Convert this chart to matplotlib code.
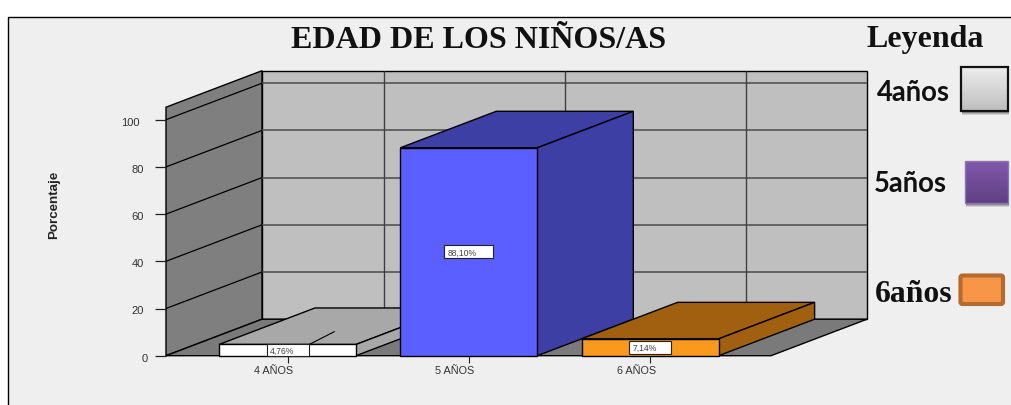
import numpy as np
import matplotlib
matplotlib.use("Agg")
import matplotlib.pyplot as plt
from matplotlib.patches import Polygon, Rectangle, FancyBboxPatch
from matplotlib.transforms import ScaledTranslation

# ---- data ----
categories = ["4 AÑOS", "5 AÑOS", "6 AÑOS"]
values = [4.76, 88.10, 7.14]
value_labels = ["4,76%", "88,10%", "7,14%"]
y_ticks = [0, 20, 40, 60, 80, 100]
legend_labels = ["4años", "5años", "6años"]
title = "EDAD DE LOS NIÑOS/AS"
legend_title = "Leyenda"
y_label = "Porcentaje"

# ---- style ----
W, H = 1011, 406
PX_X = 181.3   # pixels per category
PX_Y = 2.36    # pixels per percent
X0, X1 = 166, 771
Y_BOT, Y_TOP = 356.7, 108.2
DX = 96 / PX_X
DY = 36.5 / PX_Y
BAR_W = 137 / PX_X
SANS = "Liberation Sans"
SERIF = "Liberation Serif"

front_cols = ["#FFFFFF", "#5B5FFF", "#F99A1C"]
depth_cols = ["#A8A8A8", "#3D3FA4", "#A06010"]
box_w = [42, 49, 42]

fig = plt.figure(figsize=(W / 100, H / 100), dpi=100, facecolor="white")

# background panel and legend, in pixel coordinates
bg = fig.add_axes([0, 0, 1, 1], zorder=0)
bg.set_xlim(0, W)
bg.set_ylim(H, 0)
bg.axis("off")
bg.add_patch(Rectangle((8.0, 17.5), W + 20, H + 20, fc="#EFEFEF", ec="black", lw=1.0))


def swatch(x0, y0, x1, y1, top, bottom, edge, lw, shadow=True):
    if shadow:
        for g, a in zip((4, 3, 2), (0.12, 0.16, 0.22)):
            bg.add_patch(Rectangle((x0 + 1, y0 + g), x1 - x0, y1 - y0, fc="black",
                                   ec="none", alpha=a, zorder=2))
    c0 = np.array(matplotlib.colors.to_rgb(top))
    c1 = np.array(matplotlib.colors.to_rgb(bottom))
    t = np.linspace(0, 1, 64)[:, None, None]
    img = c0[None, None, :] * (1 - t) + c1[None, None, :] * t
    bg.imshow(img, extent=(x0, x1, y1, y0), aspect="auto", zorder=3,
              interpolation="bilinear")
    bg.add_patch(Rectangle((x0, y0), x1 - x0, y1 - y0, fc="none", ec=edge, lw=lw, zorder=4))


swatch(961, 67.5, 1007.5, 111.5, "#EDEDED", "#BEBEBE", "#111111", 1.6)
swatch(965, 161.5, 1008, 203.5, "#8359AC", "#5F4083", "#8F74B5", 1.0)
bg.add_patch(FancyBboxPatch((960.5, 276.5), 42.5, 28.5, boxstyle="round,pad=0,rounding_size=2",
                            fc="#F79646", ec="#B56A30", lw=3.0, zorder=3))
bg.set_xlim(0, W)
bg.set_ylim(H, 0)

bg.text(925.5, 40, legend_title, family=SERIF, weight="bold", fontsize=23,
        ha="center", va="center", color="#111111")
bg.text(913, 93, legend_labels[0], family="Lato", weight="bold", fontsize=19.8,
        ha="center", va="center", color="#111111")
bg.text(910.5, 184, legend_labels[1], family="Lato", weight="bold", fontsize=19.8,
        ha="center", va="center", color="#111111")
bg.text(913.5, 295, legend_labels[2], family=SERIF, weight="bold", fontsize=22.8,
        ha="center", va="center", color="#111111")

# chart axes: rectangle = front plane of the 3D box
ax = fig.add_axes([X0 / W, 1 - Y_BOT / H, (X1 - X0) / W, (Y_BOT - Y_TOP) / H], zorder=1)
ax.patch.set_alpha(0)
xmin, xmax = (X0 - 287.5) / PX_X, (X1 - 287.5) / PX_X
ymax = (Y_BOT - Y_TOP) / PX_Y
ax.set_xlim(xmin, xmax)
ax.set_ylim(0, ymax)
for s in ax.spines.values():
    s.set_visible(False)


def poly(pts, fc, ec="black", lw=1.0, z=1):
    ax.add_patch(Polygon(pts, closed=True, fc=fc, ec=ec, lw=lw, zorder=z,
                         clip_on=False, joinstyle="miter"))


def line(xs, ys, color="black", lw=1.0, z=2):
    ax.plot(xs, ys, color=color, lw=lw, zorder=z, clip_on=False, solid_capstyle="butt")


# walls and floor
poly([(xmin + DX, DY), (xmax + DX, DY), (xmax + DX, ymax + DY), (xmin + DX, ymax + DY)], "#BFBFBF")
poly([(xmin, 0), (xmin + DX, DY), (xmin + DX, ymax + DY), (xmin, ymax)], "#7F7F7F")
poly([(xmin, 0), (xmax, 0), (xmax + DX, DY), (xmin + DX, DY)], "#7A7A7A")

# gridlines
for v in y_ticks[1:]:
    line([xmin + DX, xmax + DX], [v + DY, v + DY], color="#4A4A4A", lw=1.1)
for v in y_ticks[1:]:
    line([xmin, xmin + DX], [v, v + DY], color="black", lw=0.9)
for c in range(len(categories)):
    line([c + DX, c + DX], [DY, ymax + DY], color="#404040", lw=1.0)

# 3D bars, painted left to right
zb = 5
for i, (val, f, d) in enumerate(zip(values, front_cols, depth_cols)):
    l, r = i - BAR_W / 2, i + BAR_W / 2
    poly([(l, val), (r, val), (r + DX, val + DY), (l + DX, val + DY)], d, z=zb + i)
    poly([(r, 0), (r + DX, DY), (r + DX, val + DY), (r, val)], d, z=zb + i)
    poly([(l, 0), (r, 0), (r, val), (l, val)], f, z=zb + i)

# leader stub on the first bar top
line([0.12, 0.26], [values[0], values[0] + 5.5], lw=0.8, z=zb + 0.5)

# value boxes
for i, (val, lab, bw) in enumerate(zip(values, value_labels, box_w)):
    w = bw / PX_X
    h = 12.5 / PX_Y
    ax.add_patch(Rectangle((i - w / 2, val / 2 - h / 2), w, h, fc="white", ec="#222222",
                           lw=0.8, zorder=20, clip_on=False))
    ax.text(i - w / 2 + 3 / PX_X, val / 2 - 0.1, lab, family=SANS, fontsize=6.2,
            color="#444444", ha="left", va="center", zorder=21, clip_on=False)

# axes ticks and labels
ax.set_yticks(y_ticks)
ax.set_xticks(range(len(categories)))
ax.set_xticklabels(categories, family=SANS, fontsize=7.8, color="#333333")
ax.tick_params(axis="y", length=8, width=0.9, pad=5, color="#222222",
               labelsize=8, labelcolor="#333333")
ax.tick_params(axis="x", length=5, width=0.8, pad=2.0, color="#222222")
for t, v in zip(ax.get_yticklabels(), y_ticks):
    t.set_family(SANS)
    shift = -(len(str(v)) - 1) * 4 / 100
    t.set_transform(t.get_transform() + ScaledTranslation(shift, -1 / 100, fig.dpi_scale_trans))
for t in ax.get_xticklabels():
    t.set_transform(t.get_transform() + ScaledTranslation(-14 / 100, 0, fig.dpi_scale_trans))

ax.set_ylabel(y_label, family=SANS, weight="bold", fontsize=9.6, color="#222222")
ax.yaxis.set_label_coords((60 - X0) / (X1 - X0), (Y_BOT - 205) / (Y_BOT - Y_TOP))

bg.text(479, 40, title, family=SERIF, weight="bold", fontsize=23,
        ha="center", va="center", color="#111111")

fig.savefig("out.png", dpi=100, facecolor="white")
